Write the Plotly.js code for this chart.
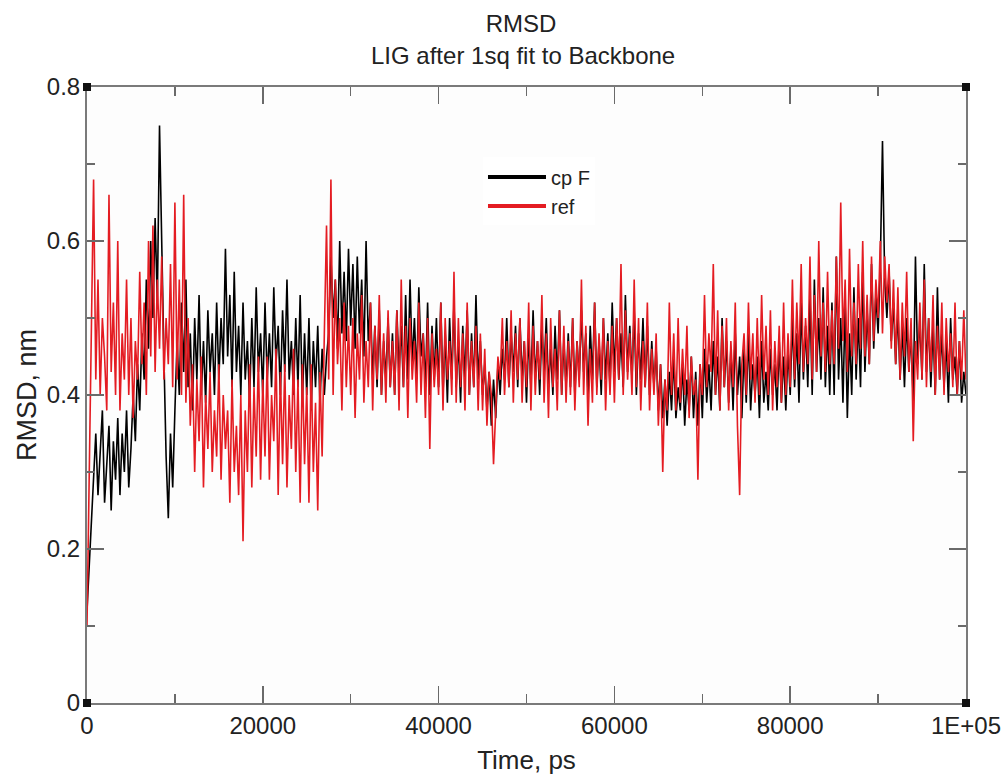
<!DOCTYPE html>
<html>
<head>
<meta charset="utf-8">
<script src="https://cdn.plot.ly/plotly-3.0.1.min.js"></script>
<style>html,body{margin:0;padding:0;background:#fff;}#chart{width:1003px;height:775px;}</style>
</head>
<body>
<div id="chart"></div>
<script>
// sampling grid (ps)
const timeStep = 250;
const timeStart = 0;

// RMSD (nm), cp F  (one row = 5000 ps)
const cpF = [
0.12,0.18,0.24,0.30,0.35,0.27,0.33,0.38,0.26,0.31,0.36,0.25,0.34,0.29,0.37,0.27,0.35,0.30,0.38,0.28,
0.33,0.40,0.34,0.44,0.38,0.48,0.42,0.55,0.46,0.60,0.50,0.63,0.52,0.75,0.58,0.45,0.32,0.24,0.35,0.28,
0.38,0.47,0.40,0.52,0.43,0.55,0.41,0.48,0.38,0.50,0.42,0.53,0.40,0.47,0.39,0.51,0.43,0.48,0.40,0.52,
0.42,0.50,0.44,0.59,0.45,0.53,0.41,0.56,0.43,0.49,0.40,0.52,0.42,0.47,0.39,0.50,0.41,0.54,0.43,0.48,
0.40,0.52,0.42,0.48,0.41,0.54,0.44,0.49,0.40,0.51,0.43,0.55,0.42,0.47,0.40,0.50,0.41,0.53,0.39,0.48,
0.40,0.50,0.38,0.47,0.41,0.49,0.39,0.46,0.40,0.45,0.48,0.58,0.50,0.55,0.46,0.60,0.48,0.56,0.47,0.59,
0.49,0.57,0.46,0.58,0.48,0.55,0.45,0.60,0.47,0.52,0.42,0.49,0.41,0.51,0.40,0.47,0.42,0.50,0.41,0.48,
0.40,0.51,0.43,0.49,0.41,0.53,0.42,0.55,0.44,0.50,0.42,0.54,0.45,0.48,0.41,0.52,0.40,0.49,0.42,0.50,
0.41,0.52,0.40,0.48,0.39,0.50,0.42,0.52,0.41,0.47,0.39,0.49,0.42,0.51,0.40,0.48,0.41,0.53,0.42,0.47,
0.40,0.44,0.38,0.43,0.36,0.42,0.37,0.44,0.40,0.46,0.42,0.50,0.41,0.48,0.43,0.49,0.41,0.50,0.42,0.47,
0.39,0.48,0.41,0.51,0.42,0.47,0.40,0.49,0.43,0.50,0.41,0.46,0.40,0.49,0.42,0.51,0.40,0.47,0.41,0.48,
0.41,0.50,0.40,0.47,0.42,0.51,0.43,0.48,0.40,0.49,0.42,0.52,0.41,0.47,0.40,0.50,0.42,0.48,0.41,0.52,
0.43,0.50,0.42,0.48,0.41,0.53,0.43,0.49,0.42,0.51,0.40,0.48,0.42,0.50,0.41,0.49,0.40,0.47,0.41,0.46,
0.38,0.44,0.37,0.42,0.36,0.43,0.38,0.45,0.37,0.41,0.38,0.44,0.36,0.42,0.38,0.45,0.37,0.43,0.36,0.44,
0.37,0.46,0.39,0.44,0.38,0.47,0.40,0.45,0.38,0.50,0.41,0.47,0.39,0.46,0.38,0.48,0.40,0.45,0.37,0.46,
0.39,0.48,0.38,0.44,0.40,0.45,0.37,0.47,0.39,0.43,0.38,0.46,0.40,0.44,0.38,0.47,0.39,0.45,0.38,0.46,
0.40,0.50,0.41,0.48,0.39,0.52,0.42,0.49,0.41,0.53,0.40,0.55,0.43,0.50,0.42,0.54,0.41,0.49,0.40,0.52,
0.40,0.58,0.42,0.50,0.39,0.52,0.37,0.48,0.40,0.54,0.42,0.50,0.41,0.56,0.43,0.51,0.44,0.57,0.46,0.53,
0.48,0.57,0.73,0.55,0.50,0.56,0.47,0.52,0.44,0.51,0.42,0.49,0.41,0.50,0.43,0.48,0.39,0.58,0.44,0.50,
0.42,0.57,0.43,0.50,0.41,0.49,0.40,0.54,0.42,0.48,0.41,0.47,0.39,0.50,0.42,0.45,0.40,0.47,0.39,0.43,
0.40
];

// RMSD (nm), ref  (one row = 5000 ps)
const ref = [
0.10,0.30,0.45,0.68,0.42,0.55,0.40,0.50,0.45,0.38,0.66,0.43,0.52,0.40,0.60,0.38,0.48,0.42,0.55,0.40,
0.50,0.37,0.47,0.42,0.56,0.44,0.52,0.40,0.60,0.45,0.62,0.43,0.55,0.46,0.58,0.42,0.50,0.44,0.57,0.41,
0.65,0.42,0.55,0.40,0.66,0.39,0.50,0.36,0.44,0.30,0.42,0.34,0.45,0.28,0.40,0.33,0.43,0.30,0.38,0.32,
0.44,0.29,0.40,0.33,0.38,0.26,0.42,0.30,0.36,0.27,0.40,0.21,0.38,0.30,0.44,0.28,0.41,0.32,0.45,0.29,
0.42,0.32,0.45,0.29,0.40,0.34,0.46,0.27,0.43,0.31,0.44,0.28,0.40,0.33,0.46,0.30,0.42,0.26,0.44,0.31,
0.41,0.26,0.44,0.30,0.39,0.25,0.43,0.32,0.48,0.62,0.42,0.68,0.40,0.55,0.44,0.50,0.38,0.52,0.41,0.49,
0.40,0.50,0.37,0.48,0.42,0.53,0.39,0.47,0.41,0.52,0.38,0.49,0.42,0.53,0.40,0.48,0.39,0.51,0.41,0.47,
0.40,0.51,0.38,0.55,0.41,0.49,0.37,0.50,0.42,0.47,0.39,0.52,0.40,0.48,0.37,0.50,0.33,0.48,0.41,0.46,
0.40,0.52,0.38,0.50,0.42,0.47,0.40,0.56,0.39,0.50,0.41,0.48,0.38,0.52,0.40,0.47,0.41,0.49,0.38,0.48,
0.38,0.46,0.36,0.43,0.40,0.31,0.38,0.45,0.42,0.50,0.40,0.47,0.41,0.51,0.39,0.48,0.42,0.50,0.39,0.47,
0.41,0.52,0.38,0.49,0.40,0.47,0.42,0.53,0.39,0.48,0.37,0.50,0.41,0.46,0.38,0.51,0.40,0.49,0.39,0.47,
0.40,0.50,0.38,0.47,0.41,0.55,0.40,0.49,0.36,0.46,0.39,0.52,0.40,0.48,0.42,0.50,0.38,0.47,0.40,0.49,
0.39,0.50,0.42,0.57,0.40,0.51,0.42,0.48,0.40,0.55,0.41,0.50,0.38,0.47,0.41,0.52,0.38,0.46,0.40,0.48,
0.36,0.44,0.30,0.42,0.38,0.52,0.40,0.48,0.38,0.50,0.39,0.46,0.40,0.49,0.37,0.45,0.40,0.42,0.29,0.44,
0.40,0.53,0.41,0.48,0.43,0.57,0.40,0.51,0.38,0.49,0.41,0.50,0.38,0.47,0.41,0.52,0.36,0.27,0.44,0.48,
0.40,0.52,0.42,0.48,0.39,0.50,0.40,0.53,0.42,0.49,0.40,0.51,0.38,0.47,0.41,0.49,0.39,0.52,0.40,0.48,
0.41,0.55,0.42,0.52,0.44,0.57,0.43,0.50,0.44,0.58,0.42,0.53,0.43,0.60,0.45,0.52,0.43,0.56,0.44,0.51,
0.44,0.58,0.46,0.65,0.47,0.55,0.43,0.59,0.45,0.52,0.44,0.57,0.46,0.60,0.45,0.53,0.44,0.58,0.47,0.55,
0.50,0.60,0.48,0.58,0.52,0.57,0.46,0.55,0.44,0.54,0.42,0.52,0.45,0.56,0.43,0.50,0.34,0.47,0.42,0.52,
0.42,0.55,0.41,0.50,0.43,0.53,0.40,0.49,0.42,0.52,0.40,0.50,0.43,0.48,0.41,0.52,0.40,0.47,0.42,0.51,
0.42
];

const seriesNames = ['cp F', 'ref'];
const seriesColors = ['#000000', '#e41c22'];
const xTickVals = [0, 20000, 40000, 60000, 80000, 100000];
const xTickText = ['0', '20000', '40000', '60000', '80000', '1E+05'];
const yTickVals = [0, 0.2, 0.4, 0.6, 0.8];
const yTickText = ['0', '0.2', '0.4', '0.6', '0.8'];

const timeCp = cpF.map((_, i) => timeStart + i * timeStep);
const timeRef = ref.map((_, i) => timeStart + i * timeStep);

const FONT = 'Liberation Sans, Arial, sans-serif';

const traces = [
  {x: timeCp, y: cpF, name: seriesNames[0], type: 'scatter', mode: 'lines', showlegend: false,
   line: {color: seriesColors[0], width: 1.6}},
  {x: timeRef, y: ref, name: seriesNames[1], type: 'scatter', mode: 'lines', showlegend: false,
   line: {color: seriesColors[1], width: 1.6}},
  // legend entries (thicker sample lines, as in the original legend)
  {x: [null], y: [null], name: seriesNames[0], type: 'scatter', mode: 'lines',
   line: {color: seriesColors[0], width: 4}},
  {x: [null], y: [null], name: seriesNames[1], type: 'scatter', mode: 'lines',
   line: {color: seriesColors[1], width: 4}}
];

function cornerSquare(ax, ay) {
  return {type: 'rect', xref: 'paper', yref: 'paper',
    xsizemode: 'pixel', ysizemode: 'pixel', xanchor: ax, yanchor: ay,
    x0: -4, x1: 4, y0: -4, y1: 4,
    fillcolor: '#111', line: {width: 0}};
}

const axisCommon = {
  showline: true, linecolor: '#7a7a7a', linewidth: 2, mirror: 'ticks',
  ticks: 'inside', ticklen: 17, tickwidth: 1.5, tickcolor: '#6a6a6a',
  showgrid: false, zeroline: false,
  tickfont: {family: FONT, size: 24, color: '#222'}
};

const layout = {
  width: 1003, height: 775,
  margin: {l: 87, r: 37, t: 87, b: 72},
  paper_bgcolor: '#ffffff', plot_bgcolor: '#fdfdfd',
  font: {family: FONT, color: '#222'},
  title: {text: 'RMSD', x: 0.5195, xanchor: 'center', y: 0.970, yanchor: 'middle',
    font: {family: FONT, size: 24, color: '#222'}},
  annotations: [
    {text: 'LIG after 1sq fit to Backbone', xref: 'paper', yref: 'paper',
     x: 0.496, y: 1.0, yshift: 32, xanchor: 'center', yanchor: 'middle', showarrow: false,
     font: {family: FONT, size: 24, color: '#222'}}
  ],
  xaxis: Object.assign({}, axisCommon, {
    range: [0, 100000], tickvals: xTickVals, ticktext: xTickText,
    minor: {ticks: 'inside', dtick: 10000, tick0: 0, ticklen: 9, tickwidth: 1.5, tickcolor: '#6a6a6a'},
    title: {text: 'Time, ps', standoff: 16, font: {family: FONT, size: 26, color: '#222'}}
  }),
  yaxis: Object.assign({}, axisCommon, {
    range: [0, 0.8], tickvals: yTickVals, ticktext: yTickText,
    minor: {ticks: 'inside', dtick: 0.1, tick0: 0, ticklen: 8, tickwidth: 1.5, tickcolor: '#6a6a6a'},
    title: {text: 'RMSD, nm', standoff: 2, font: {family: FONT, size: 27, color: '#222'}}
  }),
  showlegend: true,
  legend: {x: 0.4505, y: 0.8856, xanchor: 'left', yanchor: 'top',
    bgcolor: 'rgba(255,255,255,0.9)', borderwidth: 0, itemwidth: 58,
    font: {family: FONT, size: 20, color: '#222'}, tracegroupgap: 0},
  shapes: [cornerSquare(0, 0), cornerSquare(0, 1), cornerSquare(1, 0), cornerSquare(1, 1)]
};

Plotly.newPlot('chart', traces, layout, {displayModeBar: false, staticPlot: true});
</script>
</body>
</html>
